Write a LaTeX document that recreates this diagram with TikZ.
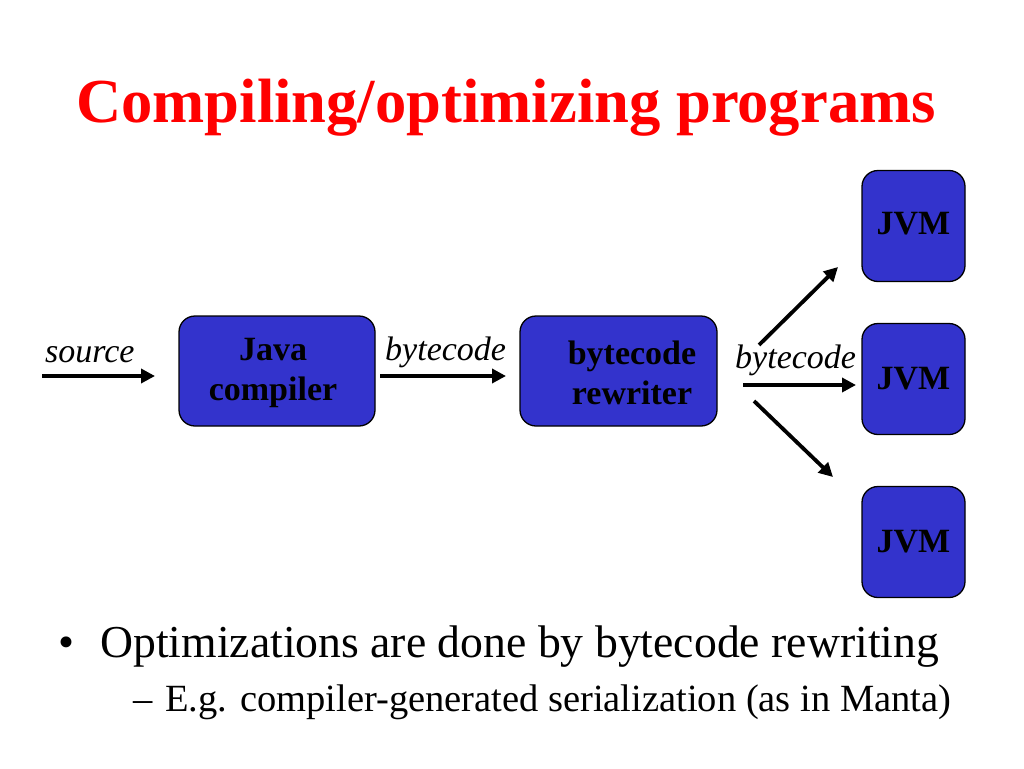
\documentclass[tikz,border=0pt]{standalone}
\usepackage{fontspec}
\setmainfont{Liberation Serif}
\usetikzlibrary{arrows.meta}
\definecolor{boxblue}{RGB}{51,51,204}
\definecolor{titlered}{RGB}{255,0,0}
\tikzset{
  box/.style={draw=black, line width=1.3pt, fill=boxblue, rounded corners=16pt, inner sep=0pt},
  boxtext/.style={font=\fontsize{34}{40}\selectfont\bfseries, align=center, inner sep=0pt, text=black},
  lbl/.style={font=\fontsize{34}{40}\selectfont\itshape, inner sep=0pt, anchor=base west},
  arr/.style={line width=3.8pt, -{Triangle[length=14pt,width=14pt]}},
}
\begin{document}
\begin{tikzpicture}[x=1pt,y=-1pt]
\useasboundingbox (0,0) rectangle (1024,768);
% title
\node[anchor=base, inner sep=0pt, text=titlered, font=\fontsize{62.6}{70}\selectfont\bfseries] (title) at (506,122) {Compiling/optimizing programs};
% boxes
\node[box, minimum width=196pt, minimum height=110pt] (jc) at (277,371) {};
\node[box, minimum width=197pt, minimum height=110pt] (bw) at (618.5,371) {};
\node[box, minimum width=103pt, minimum height=111pt] (jvm1) at (913.5,226) {};
\node[box, minimum width=103pt, minimum height=111pt] (jvm2) at (913.5,379) {};
\node[box, minimum width=103pt, minimum height=111pt] (jvm3) at (913.5,542) {};
% box texts
\node[boxtext] (jct) at (273,373) {Java\\compiler};
\node[boxtext] (bwt) at (632,373) {bytecode\\rewriter};
\node[boxtext, anchor=base] (j1t) at (913.5,234) {JVM};
\node[boxtext, anchor=base] (j2t) at (913.5,389) {JVM};
\node[boxtext, anchor=base] (j3t) at (913.5,552) {JVM};
% labels
\node[lbl] (ls) at (45,362) {source};
\node[lbl] (lb1) at (385,360) {bytecode};
\node[lbl] (lb2) at (735,368) {bytecode};
% arrow ends
\coordinate (s0) at (42,376);
\coordinate (s1) at (155,376);
\coordinate (b0) at (380,376);
\coordinate (b1) at (506,376);
\coordinate (h0) at (743,385);
\coordinate (h1) at (856,385);
\coordinate (u0) at (759,345);
\coordinate (u1) at (838,267);
\coordinate (d0) at (754,401);
\coordinate (d1) at (833,477);
\draw[arr] (s0) -- (s1);
\draw[arr] (b0) -- (b1);
\draw[arr] (h0) -- (h1);
\draw[arr] (u0) -- (u1);
\draw[arr] (d0) -- (d1);
% bullets
\node[anchor=base west, inner sep=0pt, font=\fontsize{45.7}{50}\selectfont] (bul) at (58,657) {•};
\node[anchor=base west, inner sep=0pt, font=\fontsize{45.7}{50}\selectfont] (t1) at (100,657) {Optimizations are done by bytecode rewriting};
\node[anchor=base west, inner sep=0pt, font=\fontsize{38.5}{44}\selectfont] (dash) at (133,711) {–};
\node[anchor=base west, inner sep=0pt, font=\fontsize{38.5}{44}\selectfont] (t2) at (165,711) {E.g. compiler-generated serialization (as in Manta)};
\end{tikzpicture}
\end{document}
